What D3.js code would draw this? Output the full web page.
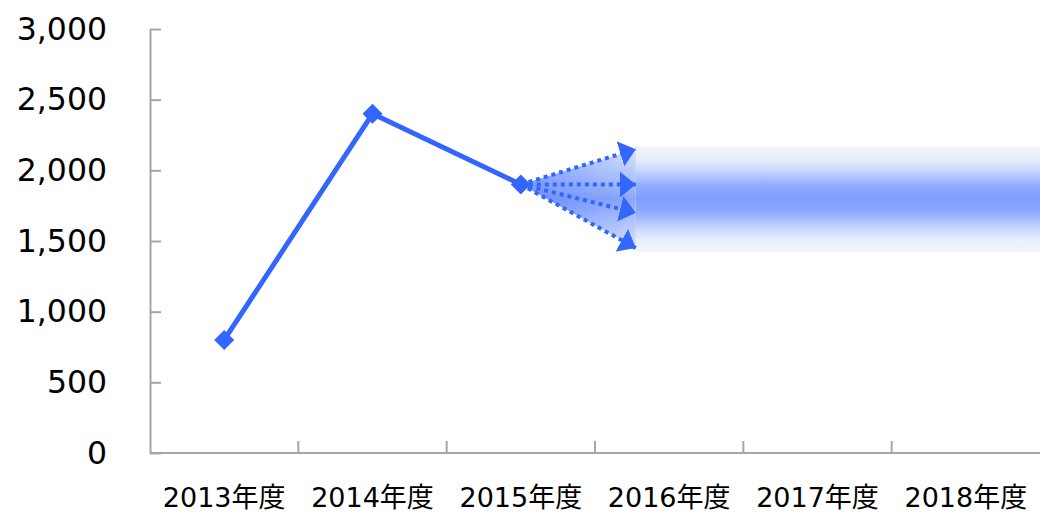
<!DOCTYPE html>
<html>
<head>
<meta charset="utf-8">
<script src="https://cdn.jsdelivr.net/npm/d3@7"></script>
<style>
  html, body { margin: 0; padding: 0; background: #fff; }
  svg { display: block; }
  text { font-family: "DejaVu Sans", Verdana, "Noto Sans CJK JP", sans-serif; fill: #000; }
</style>
</head>
<body>
<svg id="chart" width="1040" height="512"></svg>
<script>
// Fiscal-year categories and y-axis ticks
const years = ["2013年度", "2014年度", "2015年度", "2016年度", "2017年度", "2018年度"];
const yTicks = [0, 500, 1000, 1500, 2000, 2500, 3000];

// Actual results (first three fiscal years)
const actualYears = ["2013年度", "2014年度", "2015年度"];
const actualValues = [800, 2400, 1900];

// Projected scenarios starting from the last actual value
const scenarioEnds = [2150, 1900, 1700, 1450];

// Projected range band (low, high) and where it begins, in category steps after FY2015
const forecastRange = [1420, 2170];
const forecastStartStep = 0.775;

const svg = d3.select("#chart");
const margin = { left: 150, right: 0, top: 29, bottom: 59 };
const W = 1040, H = 512;
const plotBottom = H - margin.bottom;

const x = d3.scaleBand().domain(years).range([margin.left, W - margin.right]).paddingInner(0).paddingOuter(0);
const step = x.bandwidth();
const cx = d => x(d) + step / 2;
const y = d3.scaleLinear().domain([0, 3000]).range([plotBottom, margin.top]);

const blue = "#3366FF";
const axisGrey = "#a6a6a6";

const defs = svg.append("defs");

// Vertical gradient for the projected range band
const bandTop = y(forecastRange[1]), bandBot = y(forecastRange[0]);
const g1 = defs.append("linearGradient").attr("id", "bandGrad")
  .attr("gradientUnits", "userSpaceOnUse")
  .attr("x1", 0).attr("x2", 0).attr("y1", bandTop).attr("y2", bandBot);
[[0, "#eff4fc"], [0.12, "#e8eefc"], [0.22, "#ccd9fd"], [0.32, "#a3bbff"], [0.4, "#8aa7ff"], [0.5, "#7f9eff"],
 [0.6, "#8aa7ff"], [0.68, "#a3bbff"], [0.78, "#ccd9fd"], [0.88, "#e8eefc"], [1, "#eff4fc"]]
  .forEach(([o, c]) => g1.append("stop").attr("offset", o).attr("stop-color", c));

// Fan gradient (projection cone from the last actual point)
const g2 = defs.append("linearGradient").attr("id", "fanGrad")
  .attr("gradientUnits", "userSpaceOnUse")
  .attr("x1", 0).attr("x2", 0).attr("y1", bandTop).attr("y2", bandBot);
[[0, "#dfe7fd"], [0.3, "#b0c4fc"], [0.5, "#8ba7fb"], [0.7, "#b0c4fc"], [1, "#dfe7fd"]]
  .forEach(([o, c]) => g2.append("stop").attr("offset", o).attr("stop-color", c));
const g3 = defs.append("linearGradient").attr("id", "fanShade")
  .attr("x1", 0).attr("x2", 1).attr("y1", 0).attr("y2", 0);
g3.append("stop").attr("offset", 0).attr("stop-color", "#4a74ff").attr("stop-opacity", 0.5);
g3.append("stop").attr("offset", 1).attr("stop-color", "#4a74ff").attr("stop-opacity", 0);

// Arrowhead marker
defs.append("marker").attr("id", "arrowHead")
  .attr("markerUnits", "userSpaceOnUse")
  .attr("markerWidth", 16).attr("markerHeight", 26)
  .attr("viewBox", "0 0 16 26").attr("refX", 16).attr("refY", 13)
  .attr("orient", "auto")
  .append("path").attr("d", "M0,0 L16,13 L0,26 Z").attr("fill", blue);

// Axes
const yAxis = d3.axisLeft(y).tickValues(yTicks).tickFormat(d3.format(",")).tickSize(-11).tickSizeOuter(0).tickPadding(43);
const gy = svg.append("g").attr("transform", `translate(${margin.left},0)`).call(yAxis);
gy.selectAll("path, line").attr("stroke", axisGrey).attr("stroke-width", 2);
gy.selectAll("text").attr("font-size", 31.5).attr("font-family", "\"DejaVu Sans\", Verdana, sans-serif");

// X axis: baseline, boundary ticks and centred labels
svg.append("line").attr("x1", margin.left).attr("x2", W).attr("y1", plotBottom).attr("y2", plotBottom)
  .attr("stroke", axisGrey).attr("stroke-width", 2);
svg.append("g").selectAll("line").data(years.slice(1)).join("line")
  .attr("x1", d => x(d)).attr("x2", d => x(d))
  .attr("y1", plotBottom).attr("y2", plotBottom - 12)
  .attr("stroke", axisGrey).attr("stroke-width", 2);
svg.append("g").selectAll("text").data(years).join("text")
  .attr("x", d => cx(d)).attr("y", plotBottom + 54)
  .attr("text-anchor", "middle").attr("font-size", 27)
  .text(d => d);

// Projection
const lastYear = actualYears[actualYears.length - 1];
const originX = cx(lastYear), originY = y(actualValues[actualValues.length - 1]);
const fStartX = originX + forecastStartStep * step;

svg.append("rect").attr("x", fStartX).attr("y", bandTop)
  .attr("width", W - fStartX).attr("height", bandBot - bandTop)
  .attr("fill", "url(#bandGrad)");

const fanPoly = [[originX, originY], [fStartX, y(scenarioEnds[0])], [fStartX, y(scenarioEnds[scenarioEnds.length - 1])]];
svg.append("polygon").attr("points", fanPoly.map(p => p.join(",")).join(" ")).attr("fill", "url(#fanGrad)");
svg.append("polygon").attr("points", fanPoly.map(p => p.join(",")).join(" ")).attr("fill", "url(#fanShade)");

svg.append("g").selectAll("line").data(scenarioEnds).join("line")
  .attr("x1", originX).attr("y1", originY)
  .attr("x2", fStartX).attr("y2", d => y(d))
  .attr("stroke", blue).attr("stroke-width", 4)
  .attr("stroke-dasharray", "4 4")
  .attr("marker-end", "url(#arrowHead)");

// Actual line with diamond markers
const line = d3.line().x((d, i) => cx(actualYears[i])).y(d => y(d));
svg.append("path").datum(actualValues).attr("d", line)
  .attr("fill", "none").attr("stroke", blue).attr("stroke-width", 5).attr("stroke-linejoin", "round");
svg.append("g").selectAll("path").data(actualValues).join("path")
  .attr("d", d3.symbol().type(d3.symbolSquare).size(200))
  .attr("transform", (d, i) => `translate(${cx(actualYears[i])},${y(d)}) rotate(45)`)
  .attr("fill", blue);
</script>
</body>
</html>
